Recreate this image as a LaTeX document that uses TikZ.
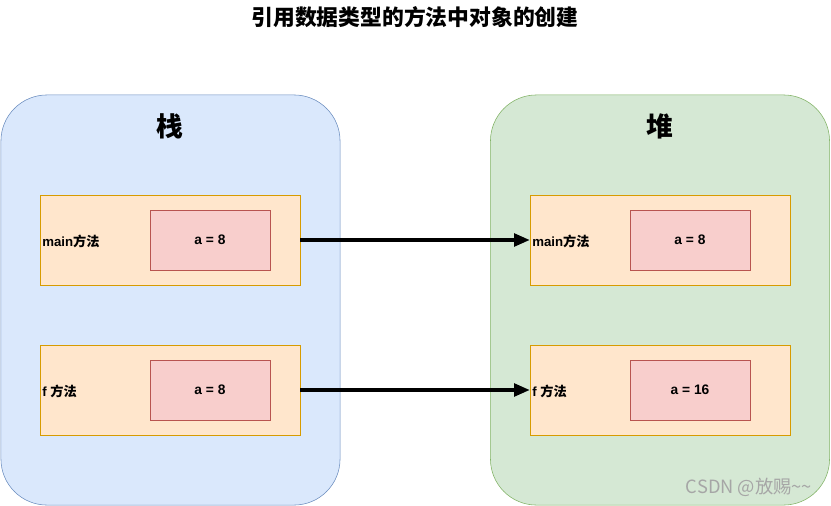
\documentclass[tikz,border=0pt]{standalone}
\usepackage{fontspec}
\setmainfont{Liberation Sans}
\newfontfamily\cjk{Noto Sans CJK SC}
\usetikzlibrary{arrows.meta}

\definecolor{stackfill}{HTML}{DAE8FC}
\definecolor{stackline}{HTML}{6C8EBF}
\definecolor{heapfill}{HTML}{D5E8D4}
\definecolor{heapline}{HTML}{82B366}
\definecolor{framefill}{HTML}{FFE6CC}
\definecolor{frameline}{HTML}{D79B00}
\definecolor{varfill}{HTML}{F8CECC}
\definecolor{varline}{HTML}{B85450}

\begin{document}
\begin{tikzpicture}[x=0.025cm, y=-0.025cm,
		area/.style={draw, rounded corners=1.15cm, minimum width=8.475cm, minimum height=10.25cm},
		frame/.style={draw=frameline, fill=framefill, minimum width=6.5cm, minimum height=2.25cm},
		var/.style={draw=varline, fill=varfill, minimum width=3cm, minimum height=1.5cm, font=\bfseries\fontsize{9.8}{11}\selectfont},
		lbl/.style={anchor=west, inner sep=0pt, font=\bfseries\fontsize{9.4}{11}\selectfont},
		ref/.style={-{Triangle[length=11pt, width=9pt]}, line width=2.2pt}]
				\useasboundingbox (0,0) rectangle (831,506);

				\node[font=\cjk\bfseries\fontsize{15.5}{17}\selectfont] (title) at (415, 17) {引用数据类型的方法中对象的创建};

				% stack
				\node[area, draw=stackline, fill=stackfill] (stack) at (170.5, 300) {};
				\node[font=\cjk\bfseries\fontsize{19}{21}\selectfont] (stacktitle) at (170, 126) {栈};

				\node[frame] (smain) at (170, 240) {};
				\node[var] (smainvar) at (210, 240) {a = 8};
				\node[lbl] (smainlbl) at (42, 241) {main{\cjk 方法}};

				\node[frame] (sf) at (170, 390) {};
				\node[var] (sfvar) at (210, 390) {a = 8};
				\node[lbl] (sflbl) at (42, 391) {f {\cjk 方法}};

				% heap
				\node[area, draw=heapline, fill=heapfill] (heap) at (660, 300) {};
				\node[font=\cjk\bfseries\fontsize{19}{21}\selectfont] (heaptitle) at (660, 126) {堆};

				\node[frame] (hmain) at (660, 240) {};
				\node[var] (hmainvar) at (690, 240) {a = 8};
				\node[lbl] (hmainlbl) at (532, 241) {main{\cjk 方法}};

				\node[frame] (hf) at (660, 390) {};
				\node[var] (hfvar) at (690, 390) {a = 16};
				\node[lbl] (hflbl) at (532, 391) {f {\cjk 方法}};

				\draw[ref] (smain.east) -- (hmain.west);
				\draw[ref] (sf.east) -- (hf.west);

				\node[text=gray!70, font=\cjk\fontsize{13}{15}\selectfont] (mark) at (749, 487) {CSDN @放赐\textasciitilde\textasciitilde};
			\end{tikzpicture}
\end{document}
